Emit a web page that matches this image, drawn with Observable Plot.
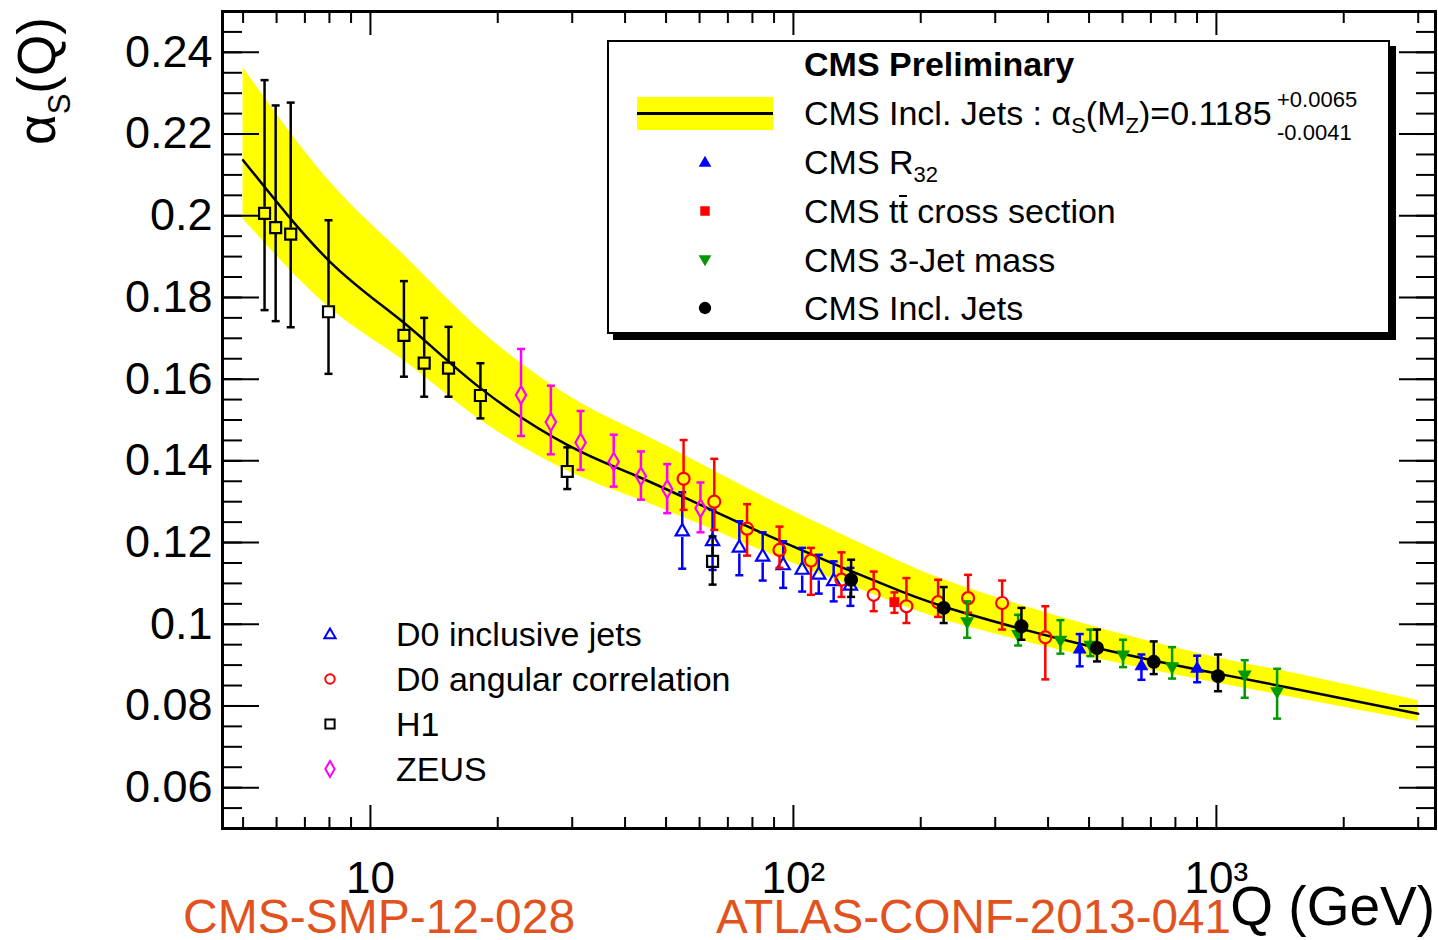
<!DOCTYPE html>
<html><head><meta charset="utf-8">
<script src="https://cdn.jsdelivr.net/npm/d3@7"></script>
<script src="https://cdn.jsdelivr.net/npm/@observablehq/plot@0.6"></script>
<style>
body{margin:0;background:#fff;font-family:"Liberation Sans",Arial,Helvetica,sans-serif;color:#000;}
#wrap{position:relative;width:1438px;height:940px;overflow:hidden;background:#fff;}
#wrap svg{display:block;}
.abs{position:absolute;white-space:nowrap;line-height:1;}
.rel{position:relative;}
</style></head><body><div id="wrap"></div>
<script>
// ---------- DATA ----------
// running alpha_s curve (central) and band edges
const curveQ = [5.0, 7.96, 12.0, 18.2, 29.2, 41.9, 60.3, 86.7, 124.5, 179, 252.7, 522, 1079, 1496, 3000];
const curveA = [0.2136, 0.1891, 0.1738, 0.1578, 0.1439, 0.1366, 0.1292, 0.1218, 0.1148, 0.1081, 0.1028, 0.0942, 0.0873, 0.0844, 0.0781];
const bandHi = [0.2363, 0.2087, 0.1904, 0.1720, 0.1561, 0.1476, 0.1393, 0.1308, 0.1229, 0.1153, 0.1092, 0.0992, 0.0911, 0.0882, 0.0813];
const bandLo = [0.1992, 0.1777, 0.1645, 0.1500, 0.1376, 0.1310, 0.1244, 0.1175, 0.1110, 0.1048, 0.0997, 0.0916, 0.0850, 0.0822, 0.0762];

// D0 inclusive jets
const d0incQ  = [54.6, 64.4, 74.5, 84.6, 94.6, 104.9, 114.8, 124.5, 136.4];
const d0incA  = [0.1227, 0.1203, 0.1187, 0.1165, 0.1144, 0.1133, 0.1121, 0.1105, 0.1094];
const d0incHi = [0.1323, 0.1280, 0.1252, 0.1225, 0.1203, 0.1187, 0.1170, 0.1154, 0.1138];
const d0incLo = [0.1136, 0.1133, 0.1120, 0.1107, 0.1089, 0.1080, 0.1075, 0.1056, 0.1045];
// D0 angular correlation
const d0angQ  = [55.0, 65.0, 77.7, 92.7, 110, 129.9, 154.8, 185, 219.8, 258.8, 311.5, 394];
const d0angA  = [0.1356, 0.1300, 0.1234, 0.1182, 0.1156, 0.1109, 0.1072, 0.1044, 0.1054, 0.1064, 0.1052, 0.0968];
const d0angHi = [0.1451, 0.1405, 0.1294, 0.1239, 0.1187, 0.1176, 0.1129, 0.1113, 0.1109, 0.1121, 0.1107, 0.1044];
const d0angLo = [0.1280, 0.1231, 0.1168, 0.1138, 0.1072, 0.1067, 0.1032, 0.1003, 0.1018, 0.1028, 0.0987, 0.0865];
// H1
const h1Q  = [5.62, 5.97, 6.48, 7.96, 12.0, 13.4, 15.3, 18.2, 29.2, 64.4];
const h1A  = [0.2006, 0.1971, 0.1955, 0.1765, 0.1707, 0.1639, 0.1627, 0.1560, 0.1374, 0.1154];
const h1Hi = [0.2332, 0.2270, 0.2277, 0.1989, 0.1840, 0.1750, 0.1728, 0.1639, 0.1433, 0.1215];
const h1Lo = [0.1769, 0.1742, 0.1727, 0.1613, 0.1606, 0.1557, 0.1557, 0.1504, 0.1331, 0.1097];
// ZEUS
const zeusQ  = [22.7, 26.7, 31.4, 37.6, 43.6, 50.3, 60.3];
const zeusA  = [0.1561, 0.1495, 0.1445, 0.1398, 0.1362, 0.1331, 0.1284];
const zeusHi = [0.1674, 0.1584, 0.1522, 0.1464, 0.1423, 0.1392, 0.1347];
const zeusLo = [0.1461, 0.1416, 0.1378, 0.1337, 0.1305, 0.1272, 0.1225];
// CMS R32
const r32Q  = [475.2, 664.9, 900.5];
const r32A  = [0.0938, 0.0897, 0.0891];
const r32Hi = [0.0976, 0.0926, 0.0923];
const r32Lo = [0.0897, 0.0864, 0.0858];
// CMS ttbar cross section
const ttQ  = [173.3];
const ttA  = [0.1054];
const ttHi = [0.1078];
const ttLo = [0.1028];
// CMS 3-jet mass
const m3jQ  = [257.5, 339.8, 427.8, 503.5, 601.6, 785.8, 1166.6, 1391.6];
const m3jA  = [0.1007, 0.0976, 0.0962, 0.0950, 0.0926, 0.0897, 0.0877, 0.0836];
const m3jHi = [0.1056, 0.1023, 0.1010, 0.0987, 0.0962, 0.0944, 0.0912, 0.0891];
const m3jLo = [0.0967, 0.0948, 0.0928, 0.0922, 0.0895, 0.0867, 0.0820, 0.0769];
// CMS inclusive jets
const cmsJQ  = [136.9, 226.6, 346, 522, 711, 1009];
const cmsJA  = [0.1109, 0.1040, 0.0995, 0.0942, 0.0908, 0.0873];
const cmsJHi = [0.1158, 0.1091, 0.1040, 0.0987, 0.0958, 0.0926];
const cmsJLo = [0.1067, 0.1003, 0.0962, 0.0909, 0.0878, 0.0836];

// ticks
const yMajor = [0.06, 0.08, 0.10, 0.12, 0.14, 0.16, 0.18, 0.20, 0.22, 0.24];
const yTickLabels = ["0.06", "0.08", "0.1", "0.12", "0.14", "0.16", "0.18", "0.2", "0.22", "0.24"];
const yMinor = d3.range(0, 41).map(i => +(0.05 + i * 0.005).toFixed(3));
const xMajor = [10, 100, 1000];
const xTickLabels = ["10", "10\u00B2", "10\u00B3"];
const xMinor = [5, 6, 7, 8, 9, 20, 30, 40, 50, 60, 70, 80, 90, 200, 300, 400, 500, 600, 700, 800, 900, 2000, 3000];

// ---------- BUILD ----------
const rows = (q, a, hi, lo) => q.map((d, i) => ({q: d, a: a[i], hi: hi[i], lo: lo[i]}));
const curve = curveQ.map((d, i) => ({q: d, a: curveA[i], hi: bandHi[i], lo: bandLo[i]}));

const triDown = {draw(ctx, size) {
  const y = -Math.sqrt(size / (3 * Math.sqrt(3)));
  ctx.moveTo(0, -2 * y); ctx.lineTo(-Math.sqrt(3) * y, y); ctx.lineTo(Math.sqrt(3) * y, y); ctx.closePath();
}};
const capSym = {draw(ctx) { ctx.moveTo(-4, 0); ctx.lineTo(4, 0); }};

const series = [
  {data: rows(d0incQ, d0incA, d0incHi, d0incLo), color: "#0000ff", symbol: "triangle", r: 4.9, filled: false, gap: 6},
  {data: rows(d0angQ, d0angA, d0angHi, d0angLo), color: "#ff0000", symbol: "circle", r: 6, filled: false, gap: 6},
  {data: rows(h1Q, h1A, h1Hi, h1Lo), color: "#000000", symbol: "square", r: 6.2, filled: false, gap: 6},
  {data: rows(zeusQ, zeusA, zeusHi, zeusLo), color: "#ff00ff", symbol: "diamond", r: 5.4, filled: false, gap: 9},
  {data: rows(r32Q, r32A, r32Hi, r32Lo), color: "#0000ff", symbol: "triangle", r: 5.2, filled: true, gap: 0},
  {data: rows(ttQ, ttA, ttHi, ttLo), color: "#ff0000", symbol: "square", r: 5.6, filled: true, gap: 0},
  {data: rows(m3jQ, m3jA, m3jHi, m3jLo), color: "#009900", symbol: triDown, r: 5.2, filled: true, gap: 0},
  {data: rows(cmsJQ, cmsJA, cmsJHi, cmsJLo), color: "#000000", symbol: "circle", r: 7, filled: true, gap: 0}
];

const seriesMarks = series.flatMap(s => [
  Plot.ruleX(s.data, {x: "q", y1: "hi", y2: "a", insetBottom: s.gap, stroke: s.color, strokeWidth: 2.5}),
  Plot.ruleX(s.data, {x: "q", y1: "a", y2: "lo", insetTop: s.gap, stroke: s.color, strokeWidth: 2.5}),
  Plot.dot(s.data, {x: "q", y: "hi", symbol: capSym, r: 1, fill: "none", stroke: s.color, strokeWidth: 2.5}),
  Plot.dot(s.data, {x: "q", y: "lo", symbol: capSym, r: 1, fill: "none", stroke: s.color, strokeWidth: 2.5}),
  Plot.dot(s.data, {x: "q", y: "a", symbol: s.symbol, r: s.r,
    fill: s.filled ? s.color : "none", stroke: s.filled ? "none" : s.color, strokeWidth: 2.2})
]);

const tickOpts = {tickFormat: () => "", strokeWidth: 2};
const plot = Plot.plot({
  width: 1438, height: 940,
  marginLeft: 222, marginRight: 3, marginTop: 11, marginBottom: 112,
  x: {type: "log", domain: [4.47, 3296], label: null},
  y: {domain: [0.05, 0.25], label: null},
  style: {fontFamily: '"Liberation Sans", Arial, sans-serif', background: "white", color: "black"},
  marks: [
    Plot.areaY(curve, {x: "q", y1: "lo", y2: "hi", fill: "#ffff00", curve: "natural"}),
    Plot.line(curve, {x: "q", y: "a", stroke: "black", strokeWidth: 2.5, curve: "natural"}),
    ...seriesMarks,
    Plot.axisY({anchor: "left", ticks: yMinor, tickSize: -20, ...tickOpts}),
    Plot.axisY({anchor: "left", ticks: yMajor, tickSize: -37, ...tickOpts}),
    Plot.axisY({anchor: "right", ticks: yMinor, tickSize: -20, ...tickOpts}),
    Plot.axisY({anchor: "right", ticks: yMajor, tickSize: -37, ...tickOpts}),
    Plot.axisX({anchor: "bottom", ticks: xMinor, tickSize: -11, ...tickOpts}),
    Plot.axisX({anchor: "bottom", ticks: xMajor, tickSize: -23, ...tickOpts}),
    Plot.axisX({anchor: "top", ticks: xMinor, tickSize: -11, ...tickOpts}),
    Plot.axisX({anchor: "top", ticks: xMajor, tickSize: -23, ...tickOpts}),
    Plot.axisY({anchor: "left", ticks: yMajor, tickSize: 0, tickPadding: 10, fontSize: 45,
      tickFormat: d => yTickLabels[yMajor.indexOf(d)]}),
    Plot.axisX({anchor: "bottom", ticks: xMajor, tickSize: 0, tickPadding: 33, fontSize: 44,
      tickFormat: d => xTickLabels[xMajor.indexOf(d)]}),
    Plot.frame({stroke: "black", strokeWidth: 3})
  ]
});
const wrap = document.getElementById("wrap");
wrap.appendChild(plot);

// ---------- TEXT / LEGEND OVERLAY ----------
const W = 1438;
function addText(html, x, baseline, size, o = {}) {
  const lh = o.lh || 1;
  const d = document.createElement("div");
  d.className = "abs";
  d.innerHTML = html;
  d.style.fontSize = size + "px";
  d.style.lineHeight = lh;
  d.style.top = (baseline - ((lh - 1.117) / 2 + 0.905) * size) + "px";
  if (o.right) d.style.right = (W - x) + "px"; else d.style.left = x + "px";
  if (o.color) d.style.color = o.color;
  if (o.bold) d.style.fontWeight = "bold";
  wrap.appendChild(d);
  return d;
}
function addMarker(sym, cx, cy, size, color, filled) {
  const ns = "http://www.w3.org/2000/svg";
  const s = document.createElementNS(ns, "svg");
  s.setAttribute("width", 30); s.setAttribute("height", 30);
  s.style.position = "absolute"; s.style.left = (cx - 15) + "px"; s.style.top = (cy - 15) + "px";
  const p = document.createElementNS(ns, "path");
  p.setAttribute("d", d3.symbol(sym, size)());
  p.setAttribute("transform", "translate(15,15)");
  p.setAttribute("fill", filled ? color : "none");
  p.setAttribute("stroke", filled ? "none" : color);
  p.setAttribute("stroke-width", 2);
  s.appendChild(p);
  wrap.appendChild(s);
}

// y-axis title
const yt = document.createElement("div");
yt.className = "abs";
yt.style.fontSize = "53px";
yt.style.left = "10px"; yt.style.top = "145px";
yt.style.transform = "rotate(-90deg)"; yt.style.transformOrigin = "0 0";
yt.innerHTML = 'α<span class="rel" style="font-size:31px;top:15px">S</span>(Q)';
wrap.appendChild(yt);

// x-axis title and references
addText("Q (GeV)", 1435, 925, 55, {right: true, lh: 0.8});
addText("CMS-SMP-12-028", 183, 933, 48, {color: "#e1521f", lh: 0.78});
addText("ATLAS-CONF-2013-041", 716, 933, 47.6, {color: "#e1521f", lh: 0.78});

// top-right legend box
const box = document.createElement("div");
box.className = "abs";
Object.assign(box.style, {left: "607px", top: "40px", width: "779px", height: "290px",
  border: "2px solid #000", background: "#fff", boxShadow: "6px 6px 0 #000"});
wrap.appendChild(box);
addText("CMS Preliminary", 804, 76, 34, {bold: true});
const band = document.createElement("div");
band.className = "abs";
Object.assign(band.style, {left: "637px", top: "97px", width: "136px", height: "33px", background: "#ffff00"});
wrap.appendChild(band);
const bl = document.createElement("div");
bl.className = "abs";
Object.assign(bl.style, {left: "637px", top: "112px", width: "136px", height: "2.5px", background: "#000"});
wrap.appendChild(bl);
addText('CMS Incl. Jets : α<span class="rel" style="font-size:22px;top:8px">S</span>(M<span class="rel" style="font-size:22px;top:8px">Z</span>)=0.1185', 804, 125, 34);
addText("+0.0065", 1277, 108, 22);
addText("-0.0041", 1277, 141, 22);
addText('CMS R<span class="rel" style="font-size:22px;top:8px">32</span>', 804, 174, 34);
addText('CMS t<span style="position:relative">t<span style="position:absolute;left:1px;right:1px;top:3px;border-top:2.5px solid #000"></span></span> cross section', 804, 223, 34);
addText("CMS 3-Jet mass", 804, 272, 34);
addText("CMS Incl. Jets", 804, 320, 34);
addMarker(d3.symbolTriangle, 705, 163, 70, "#0000ff", true);
addMarker(d3.symbolSquare, 705, 211, 90, "#ff0000", true);
addMarker(triDown, 705, 259, 70, "#009900", true);
addMarker(d3.symbolCircle, 705, 308, 120, "#000000", true);

// lower-left legend
addText("D0 inclusive jets", 396, 646, 34);
addText("D0 angular correlation", 396, 691, 34);
addText("H1", 396, 736, 34);
addText("ZEUS", 396, 781, 34);
addMarker(d3.symbolTriangle, 330, 635, 55, "#0000ff", false);
addMarker(d3.symbolCircle, 330, 679, 70, "#ff0000", false);
addMarker(d3.symbolSquare, 330, 724, 85, "#000000", false);
addMarker(d3.symbolDiamond, 330, 769, 75, "#ff00ff", false);
</script></body></html>
